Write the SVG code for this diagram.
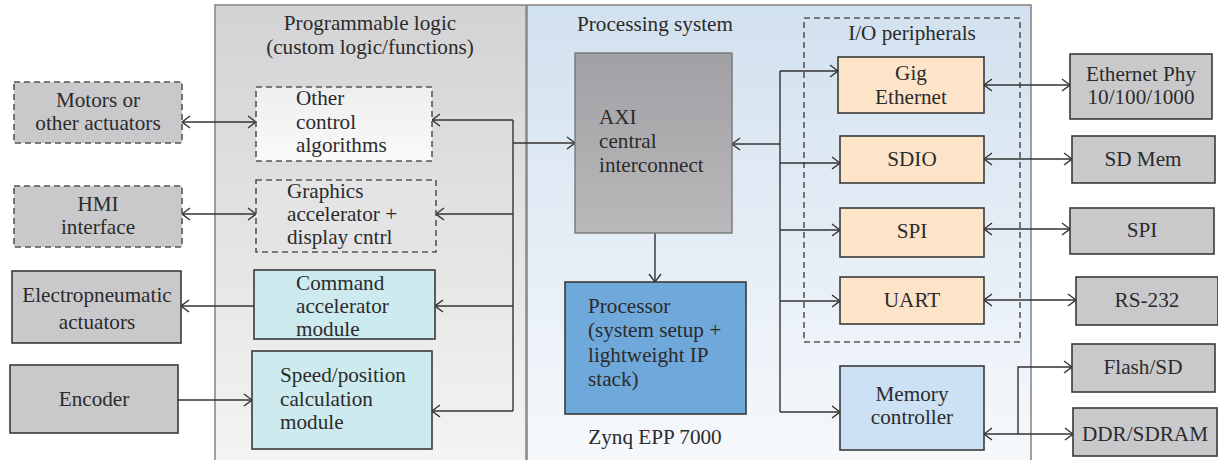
<svg xmlns="http://www.w3.org/2000/svg" width="1218" height="460" viewBox="0 0 1218 460">
<style>
text{font-family:"Liberation Serif","Times New Roman",serif;font-size:21.2px;fill:#2b2b2b}
.c{text-anchor:middle}
.box{stroke:#3a3a3a;stroke-width:1.6}
.dash{stroke:#555;stroke-width:1.6;stroke-dasharray:6,4}
.ext{fill:#c9c9cb}
.peach{fill:#fde4c9}
.cyan{fill:#cdeaee}
.conn path{fill:none;stroke:#333;stroke-width:1.4}
</style>
<defs>
<linearGradient id="gPL" x1="0" y1="0" x2="0" y2="1"><stop offset="0" stop-color="#d3d3d5"/><stop offset="1" stop-color="#f4f4f4"/></linearGradient>
<linearGradient id="gPS" x1="0" y1="0" x2="0" y2="1"><stop offset="0" stop-color="#d2e1ef"/><stop offset="1" stop-color="#f6f9fc"/></linearGradient>
<linearGradient id="gAXI" x1="0" y1="0" x2="0" y2="1"><stop offset="0" stop-color="#a1a1a5"/><stop offset="1" stop-color="#b9b9bb"/></linearGradient>
<linearGradient id="gOther" x1="0" y1="0" x2="0" y2="1"><stop offset="0" stop-color="#eeeeee"/><stop offset="1" stop-color="#fafafa"/></linearGradient>
<marker id="a" viewBox="0 0 10 14" refX="9" refY="7" markerWidth="10" markerHeight="14" markerUnits="userSpaceOnUse" orient="auto-start-reverse"><path d="M1,1 L9,7 L1,13" fill="none" stroke="#333" stroke-width="1.4"/></marker>
</defs>

<g id="panel-pl">
<rect x="215" y="5" width="311" height="460" fill="url(#gPL)" stroke="#8a8a8a" stroke-width="1.6"/>
<text class="c" x="370" y="30">Programmable logic</text>
<text class="c" x="370" y="54">(custom logic/functions)</text>
</g>
<g id="panel-ps">
<rect x="527" y="5" width="504" height="460" fill="url(#gPS)" stroke="#8a8a8a" stroke-width="1.6"/>
<text x="577" y="31">Processing system</text>
<text class="c" x="655" y="444">Zynq EPP 7000</text>
</g>
<g id="io-group">
<rect x="804" y="18" width="216" height="324" fill="none" class="dash"/>
<text class="c" x="912" y="40">I/O peripherals</text>
</g>

<g class="conn">
<path d="M182,122 H256" marker-start="url(#a)" marker-end="url(#a)"/>
<path d="M182,214 H256" marker-start="url(#a)" marker-end="url(#a)"/>
<path d="M254,306 H181" marker-end="url(#a)"/>
<path d="M178,400 H252" marker-end="url(#a)"/>
<path d="M513,120 V411"/>
<path d="M513,120 H432" marker-end="url(#a)"/>
<path d="M513,214 H436" marker-end="url(#a)"/>
<path d="M513,306 H435" marker-end="url(#a)"/>
<path d="M513,411 H432" marker-end="url(#a)"/>
<path d="M513,143 H575" marker-end="url(#a)"/>
<path d="M655,233 V282" marker-end="url(#a)"/>
<path d="M780,71 V412"/>
<path d="M780,144 H732" marker-end="url(#a)"/>
<path d="M780,71 H838" marker-end="url(#a)"/>
<path d="M780,163 H840" marker-end="url(#a)"/>
<path d="M780,230 H840" marker-end="url(#a)"/>
<path d="M780,301 H840" marker-end="url(#a)"/>
<path d="M780,412 H840" marker-end="url(#a)"/>
<path d="M984,85 H1070" marker-start="url(#a)" marker-end="url(#a)"/>
<path d="M984,159 H1072" marker-start="url(#a)" marker-end="url(#a)"/>
<path d="M984,229 H1070" marker-start="url(#a)" marker-end="url(#a)"/>
<path d="M984,300 H1076" marker-start="url(#a)" marker-end="url(#a)"/>
<path d="M984,434 H1073" marker-start="url(#a)" marker-end="url(#a)"/>
<path d="M1018,434 V367 H1072" marker-end="url(#a)"/>
</g>

<g id="motors"><rect x="14" y="82" width="168" height="61" class="ext dash"/><text class="c" x="98" y="107">Motors or</text><text class="c" x="98" y="130">other actuators</text></g>
<g id="hmi"><rect x="14" y="186" width="168" height="61" class="ext dash"/><text class="c" x="98" y="211">HMI</text><text class="c" x="98" y="234">interface</text></g>
<g id="electro"><rect x="12" y="271" width="169" height="72" class="ext box"/><text class="c" x="97" y="302">Electropneumatic</text><text class="c" x="97" y="329">actuators</text></g>
<g id="encoder"><rect x="10" y="365" width="168" height="68" class="ext box"/><text class="c" x="94" y="406">Encoder</text></g>

<g id="other"><rect x="256" y="87" width="176" height="74" fill="url(#gOther)" class="dash"/><text x="296" y="105">Other</text><text x="296" y="129">control</text><text x="296" y="152">algorithms</text></g>
<g id="graphics"><rect x="256" y="180" width="180" height="72" fill="#e4e4e6" class="dash"/><text x="287" y="198">Graphics</text><text x="287" y="221">accelerator +</text><text x="287" y="244">display cntrl</text></g>
<g id="command"><rect x="254" y="270" width="181" height="69" class="cyan box"/><text x="296" y="290">Command</text><text x="296" y="313">accelerator</text><text x="296" y="336">module</text></g>
<g id="speed"><rect x="252" y="351" width="180" height="98" class="cyan box"/><text x="280" y="382">Speed/position</text><text x="280" y="406">calculation</text><text x="280" y="429">module</text></g>

<g id="axi"><rect x="575" y="53" width="157" height="180" fill="url(#gAXI)" stroke="#777" stroke-width="1.4"/><text x="599" y="124">AXI</text><text x="599" y="148">central</text><text x="599" y="172">interconnect</text></g>
<g id="processor"><rect x="565" y="282" width="181" height="132" fill="#6fa8da" class="box"/><text x="588" y="313">Processor</text><text x="588" y="337">(system setup +</text><text x="588" y="362">lightweight IP</text><text x="588" y="386">stack)</text></g>

<g id="gig"><rect x="838" y="57" width="146" height="56" class="peach box"/><text class="c" x="911" y="80">Gig</text><text class="c" x="911" y="104">Ethernet</text></g>
<g id="sdio"><rect x="840" y="136" width="144" height="47" class="peach box"/><text class="c" x="912" y="166">SDIO</text></g>
<g id="spi"><rect x="840" y="208" width="144" height="49" class="peach box"/><text class="c" x="912" y="238">SPI</text></g>
<g id="uart"><rect x="840" y="277" width="144" height="47" class="peach box"/><text class="c" x="912" y="307">UART</text></g>
<g id="memctrl"><rect x="840" y="366" width="144" height="84" fill="#cce1f4" class="box"/><text class="c" x="912" y="401">Memory</text><text class="c" x="912" y="424">controller</text></g>

<g id="ethphy"><rect x="1070" y="54" width="142" height="65" class="ext box"/><text class="c" x="1141" y="81">Ethernet Phy</text><text class="c" x="1141" y="104">10/100/1000</text></g>
<g id="sdmem"><rect x="1072" y="136" width="143" height="47" class="ext box"/><text class="c" x="1143" y="166">SD Mem</text></g>
<g id="spi-ext"><rect x="1070" y="208" width="144" height="46" class="ext box"/><text class="c" x="1142" y="237">SPI</text></g>
<g id="rs232"><rect x="1076" y="277" width="142" height="48" class="ext box"/><text class="c" x="1147" y="307">RS-232</text></g>
<g id="flash"><rect x="1072" y="344" width="143" height="48" class="ext box"/><text class="c" x="1143" y="374">Flash/SD</text></g>
<g id="ddr"><rect x="1073" y="408" width="144" height="48" class="ext box"/><text class="c" x="1145" y="441">DDR/SDRAM</text></g>
</svg>
